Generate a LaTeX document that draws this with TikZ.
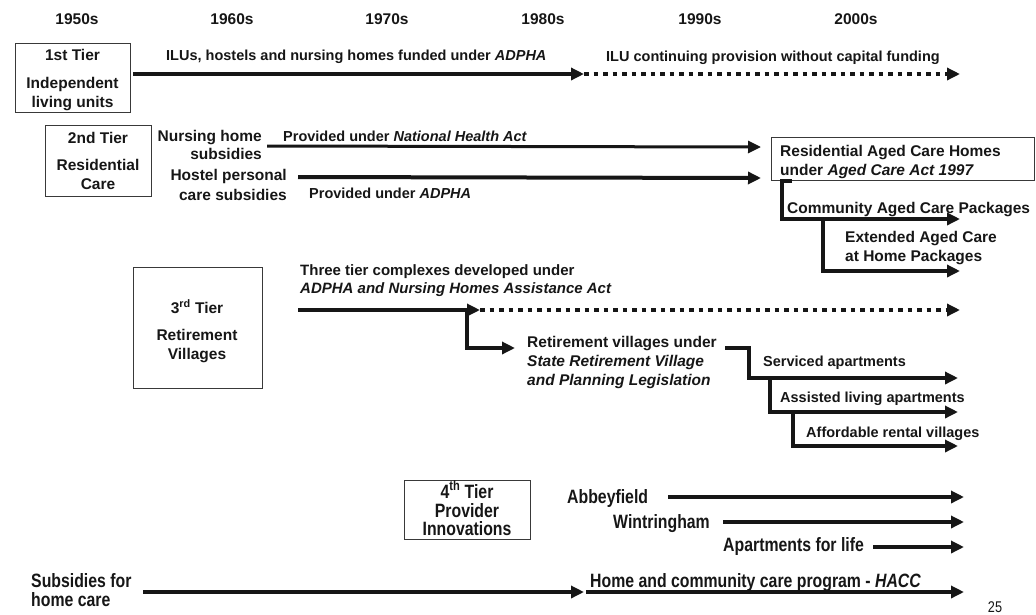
\documentclass[tikz,border=0pt]{standalone}
\usepackage{fontspec}
\setmainfont{Liberation Sans}
\setsansfont{Liberation Sans}
\newfontfamily\narrowfam{Liberation Sans}[FakeStretch=0.82]
\usetikzlibrary{arrows.meta}
\definecolor{ink}{HTML}{161616}
\begin{document}
\begin{tikzpicture}[x=1pt,y=-1pt,
  big/.style={inner sep=0pt, text=ink, font=\bfseries\fontsize{15.5}{18}\selectfont},
  small/.style={inner sep=0pt, text=ink, font=\bfseries\fontsize{14.5}{17}\selectfont},
  narrow/.style={inner sep=0pt, text=ink, font=\narrowfam\bfseries\fontsize{19.3}{19}\selectfont},
  tierbox/.style={draw=ink!85, line width=1.3pt, inner sep=0pt, anchor=north west},
  arr/.style={draw=ink, line width=4pt, line join=miter, -{Triangle[length=13pt,width=12pt]}},
  thinarr/.style={arr, line width=3pt},
  dotarr/.style={arr, dash pattern=on 4.5pt off 5pt}
]
\useasboundingbox (0,0) rectangle (1036,614);

% decades
\node[big, anchor=base] (d50) at (77,24) {1950s};
\node[big, anchor=base] (d60) at (232,24) {1960s};
\node[big, anchor=base] (d70) at (387,24) {1970s};
\node[big, anchor=base] (d80) at (543,24) {1980s};
\node[big, anchor=base] (d90) at (700,24) {1990s};
\node[big, anchor=base] (d00) at (856,24) {2000s};

% 1st tier
\node[tierbox, minimum width=115pt, minimum height=69pt] (tier1) at (15,43) {};
\node[big, anchor=base] (t1a) at (72.5,60) {1st Tier};
\node[big, anchor=base] (t1b) at (72.5,88) {Independent};
\node[big, anchor=base] (t1c) at (72.5,107) {living units};
\node[small, anchor=base west] (ilu1) at (166,60) {ILUs, hostels and nursing homes funded under \textit{ADPHA}};
\node[small, anchor=base west] (ilu2) at (606,61) {ILU continuing provision without capital funding};
\coordinate (a1s) at (133,74);
\coordinate (a1m) at (584,74);
\coordinate (a1e) at (960,74);
\draw[arr] (a1s) -- (a1m);
\draw[dotarr] (a1m) -- (a1e);

% 2nd tier
\node[tierbox, minimum width=106pt, minimum height=71pt] (tier2) at (45,125) {};
\node[big, anchor=base] (t2a) at (98,143) {2nd Tier};
\node[big, anchor=base] (t2b) at (98,170) {Residential};
\node[big, anchor=base] (t2c) at (98,189) {Care};
\node[big, anchor=base east] (nh1) at (262,141) {Nursing home};
\node[big, anchor=base east] (nh2) at (262,159) {subsidies};
\node[small, anchor=base west] (nhl) at (283,141) {Provided under \textit{National Health Act}};
\node[big, anchor=base east] (hp1) at (287,180) {Hostel personal};
\node[big, anchor=base east] (hp2) at (287,200) {care subsidies};
\node[small, anchor=base west] (hpl) at (309,198) {Provided under \textit{ADPHA}};
\node[tierbox, minimum width=263pt, minimum height=43pt] (rach) at (771,137) {};
\node[big, anchor=base west] (r1) at (780,156) {Residential Aged Care Homes};
\node[big, anchor=base west] (r2) at (780,175) {under \textit{Aged Care Act 1997}};
\coordinate (nhs) at (267,146);
\coordinate (nhe) at (761,147);
\coordinate (hs) at (298,177);
\coordinate (he) at (761,178);
\draw[thinarr] (nhs) -- (nhe);
\draw[arr] (hs) -- (he);
\node[big, anchor=base west] (cacp) at (787,213) {Community Aged Care Packages};
\node[big, anchor=base west] (eac1) at (845,242) {Extended Aged Care};
\node[big, anchor=base west] (eac2) at (845,261) {at Home Packages};
\coordinate (b1s) at (792,181);
\coordinate (b1c) at (782,181);
\coordinate (b1e) at (960,219);
\coordinate (b2s) at (823,219);
\coordinate (b2e) at (960,271);
\draw[arr] (b1s) -- (b1c) |- (b1e);
\draw[arr] (b2s) |- (b2e);

% 3rd tier
\node[tierbox, minimum width=129pt, minimum height=121pt] (tier3) at (133,267) {};
\node[big, anchor=base] (t3a) at (197,313) {3\textsuperscript{rd} Tier};
\node[big, anchor=base] (t3b) at (197,340) {Retirement};
\node[big, anchor=base] (t3c) at (197,359) {Villages};
\node[big, anchor=base west, font=\bfseries\fontsize{15}{18}\selectfont] (ttc1) at (300,275) {Three tier complexes developed under};
\node[big, anchor=base west, font=\bfseries\fontsize{15}{18}\selectfont] (ttc2) at (300,293) {\textit{ADPHA and Nursing Homes Assistance Act}};
\coordinate (a3s) at (298,310);
\coordinate (a3m) at (480,310);
\coordinate (a3e) at (960,310);
\draw[arr] (a3s) -- (a3m);
\draw[dotarr] (a3m) -- (a3e);
\coordinate (rv0) at (467,310);
\coordinate (rve) at (515,348);
\draw[arr] (rv0) |- (rve);
\node[big, anchor=base west] (rv1) at (527,347) {Retirement villages under};
\node[big, anchor=base west] (rv2) at (527,366) {\textit{State Retirement Village}};
\node[big, anchor=base west] (rv3) at (527,385) {\textit{and Planning Legislation}};
\coordinate (s1s) at (725,348);
\coordinate (s1c) at (749,378);
\coordinate (s1e) at (958,378);
\draw[arr] (s1s) -| (s1c) -- (s1e);
\node[small, anchor=base west] (sa) at (763,366) {Serviced apartments};
\coordinate (s2s) at (770,378);
\coordinate (s2e) at (958,412);
\draw[arr] (s2s) |- (s2e);
\node[small, anchor=base west] (al) at (780,402) {Assisted living apartments};
\coordinate (s3s) at (793,412);
\coordinate (s3e) at (958,446);
\draw[arr] (s3s) |- (s3e);
\node[small, anchor=base west] (ar) at (806,437) {Affordable rental villages};

% 4th tier
\node[tierbox, minimum width=126pt, minimum height=59pt] (tier4) at (404,480) {};
\node[narrow, anchor=base] (t4a) at (467,498) {4\textsuperscript{th} Tier};
\node[narrow, anchor=base] (t4b) at (467,517) {Provider};
\node[narrow, anchor=base] (t4c) at (467,535) {Innovations};
\node[narrow, anchor=base west] (ab) at (567,503) {Abbeyfield};
\node[narrow, anchor=base west] (wi) at (613,528) {Wintringham};
\node[narrow, anchor=base west] (ap) at (723,551) {Apartments for life};
\coordinate (abs) at (668,497);
\coordinate (abe) at (964,497);
\coordinate (wis) at (723,522);
\coordinate (wie) at (964,522);
\coordinate (aps) at (873,547);
\coordinate (ape) at (964,547);
\draw[arr] (abs) -- (abe);
\draw[arr] (wis) -- (wie);
\draw[arr] (aps) -- (ape);

% home care
\node[narrow, anchor=base west] (sh1) at (31,587) {Subsidies for};
\node[narrow, anchor=base west] (sh2) at (31,606) {home care};
\node[narrow, anchor=base west] (hacc) at (590,587) {Home and community care program - \textit{HACC}};
\coordinate (hcs) at (143,592);
\coordinate (hcm) at (584,592);
\coordinate (hcm2) at (586,592);
\coordinate (hce) at (964,592);
\draw[arr] (hcs) -- (hcm);
\draw[arr] (hcm2) -- (hce);
\node[inner sep=0pt, text=ink, anchor=base, font=\narrowfam\fontsize{15.5}{18}\selectfont] (pg) at (995,612) {25};
\end{tikzpicture}
\end{document}
